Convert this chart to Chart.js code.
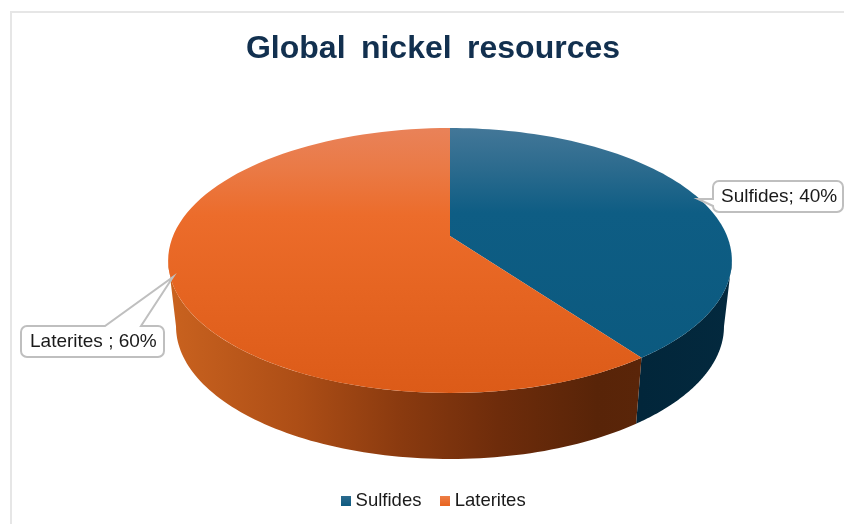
<!DOCTYPE html>
<html>
<head>
<meta charset="utf-8">
<title>Global nickel resources</title>
<script src="https://cdn.jsdelivr.net/npm/chart.js@4/dist/chart.umd.min.js"></script>
<style>
    html, body { margin: 0; padding: 0; background: #fff; overflow: hidden; }
    #wrap { width: 844px; height: 524px; position: relative; }
</style>
</head>
<body>
<div id="wrap"><canvas id="nickel-chart" width="844" height="524"></canvas></div>
<script>
const chartTitle = 'Global nickel resources';
const categories = ['Sulfides', 'Laterites'];
const shares = [40, 60];
const labelSeparators = ['; ', ' ; '];
const sliceColors = ['#125F85', '#EC6A2A'];

const FONT = '"Liberation Sans", Arial, sans-serif';

// Tilted disc: maps a unit circle onto the page with a little perspective
const disc = { cx: 450, cy: 236, rx: 277, ySkew: 84.3, persp: -0.185, depth: 66, bottomScale: 0.972 };

function rimPoint(angle, bottom) {
    const c = Math.cos(angle), s = Math.sin(angle);
    const w = 1 + disc.persp * s;
    let x = disc.rx * c / w;
    let y = disc.cy + disc.ySkew * s / w + (disc.cy * (1 / w - 1));
    if (bottom) {
        x *= disc.bottomScale;
        y += disc.depth;
    }
    return { x: disc.cx + x, y: y };
}

function traceRim(ctx, from, to, bottom, first) {
    const steps = 90;
    for (let i = 0; i <= steps; i++) {
        const p = rimPoint(from + (to - from) * i / steps, bottom);
        if (i === 0 && first) ctx.moveTo(p.x, p.y);
        else ctx.lineTo(p.x, p.y);
    }
}

function stops(grad, list) {
    list.forEach(function(item) { grad.addColorStop(item[0], item[1]); });
    return grad;
}

// Side wall first, top face over it
const discPlugin = {
    id: 'tiltedDisc',
    beforeDatasetsDraw(chart) {
        const ctx = chart.ctx;
        const arcs = chart.getDatasetMeta(0).data;

        const wallFills = [
            stops(ctx.createLinearGradient(640, 0, 732, 0), [[0, '#02263A'], [1, '#03293E']]),
            stops(ctx.createLinearGradient(170, 0, 640, 0), [[0, '#C9621F'], [0.27, '#AD4E16'], [0.49, '#8A3A0F'], [0.7, '#6E2C0B'], [0.91, '#582408'], [1, '#5A2509']])
        ];
        const topFills = [
            stops(ctx.createLinearGradient(0, 128, 0, 393), [[0, '#437798'], [0.15, '#2C6B8E'], [0.32, '#0E5D84'], [1, '#0B597E']]),
            stops(ctx.createLinearGradient(0, 128, 0, 393), [[0, '#E98259'], [0.15, '#EA7A46'], [0.33, '#EC6C2B'], [0.6, '#E66522'], [1, '#DC5B18']])
        ];

        // the wall runs between the two points where the rim turns back
        const nearFrom = Math.asin(-disc.persp), nearTo = Math.PI - nearFrom;
        arcs.forEach(function(arc, i) {
            const p = arc.getProps(['startAngle', 'endAngle'], true);
            let a = p.startAngle, b = p.endAngle;
            if (a < nearFrom && b > nearFrom) a = nearFrom;
            if (b > nearTo) b = nearTo;
            ctx.beginPath();
            traceRim(ctx, a, b, false, true);
            traceRim(ctx, b, a, true, false);
            ctx.closePath();
            ctx.fillStyle = wallFills[i];
            ctx.fill();
        });

        arcs.forEach(function(arc, i) {
            const p = arc.getProps(['startAngle', 'endAngle'], true);
            ctx.beginPath();
            ctx.moveTo(disc.cx, disc.cy);
            traceRim(ctx, p.startAngle, p.endAngle, false, false);
            ctx.closePath();
            ctx.fillStyle = topFills[i];
            ctx.fill();
        });
        return false;
    }
};

// Thin frame on the top and left of the panel
const framePlugin = {
    id: 'panelFrame',
    beforeDraw(chart) {
        const ctx = chart.ctx;
        ctx.save();
        ctx.strokeStyle = '#E6E6E6';
        ctx.lineWidth = 2;
        ctx.beginPath();
        ctx.moveTo(11, 524);
        ctx.lineTo(11, 12);
        ctx.lineTo(844, 12);
        ctx.stroke();
        ctx.restore();
        // wide gaps between the title words
        ctx.wordSpacing = '6.5px';
    },
    afterDatasetsDraw(chart) {
        chart.ctx.wordSpacing = '0px';
    }
};

// Nudge the legend row sideways, its width includes trailing padding
const legendNudge = {
    id: 'legendNudge',
    afterLayout(chart) {
        chart.legend.left += 2.5;
        chart.legend.right += 2.5;
    }
};

function calloutPath(ctx, box, wedge) {
    const r = 6, x0 = box.x, y0 = box.y, x1 = box.x + box.w, y1 = box.y + box.h;
    ctx.beginPath();
    ctx.moveTo(x0 + r, y0);
    if (wedge.side === 'top') {
        ctx.lineTo(wedge.a, y0);
        ctx.lineTo(wedge.tipX, wedge.tipY);
        ctx.lineTo(wedge.b, y0);
    }
    ctx.lineTo(x1 - r, y0);
    ctx.arcTo(x1, y0, x1, y0 + r, r);
    ctx.lineTo(x1, y1 - r);
    ctx.arcTo(x1, y1, x1 - r, y1, r);
    ctx.lineTo(x0 + r, y1);
    ctx.arcTo(x0, y1, x0, y1 - r, r);
    if (wedge.side === 'left') {
        ctx.lineTo(wedge.tipX, wedge.tipY);
        ctx.lineTo(x0, wedge.a);
    }
    ctx.lineTo(x0, y0 + r);
    ctx.arcTo(x0, y0, x0 + r, y0, r);
    ctx.closePath();
}

// Label boxes with their pointers
const calloutPlugin = {
    id: 'sliceCallouts',
    afterDraw(chart) {
        const ctx = chart.ctx;
        const callouts = [
            { box: { x: 713, y: 181, w: 130, h: 31 }, textX: 721, textY: 197,
              wedge: { side: 'left', a: 199, tipX: 698, tipY: 199 } },
            { box: { x: 21, y: 326, w: 143, h: 31 }, textX: 30, textY: 342,
              wedge: { side: 'top', a: 105, b: 141, tipX: 173, tipY: 277 } }
        ];
        ctx.save();
        ctx.wordSpacing = '0px';
        callouts.forEach(function(c, i) {
            calloutPath(ctx, c.box, c.wedge);
            ctx.fillStyle = '#FFFFFF';
            ctx.fill();
            ctx.strokeStyle = '#BFBFBF';
            ctx.lineWidth = 2;
            ctx.stroke();
            ctx.fillStyle = '#1A1A1A';
            ctx.font = '19px ' + FONT;
            ctx.textAlign = 'left';
            ctx.textBaseline = 'middle';
            ctx.fillText(categories[i] + labelSeparators[i] + shares[i] + '%', c.textX, c.textY);
        });
        ctx.restore();
    }
};

// Small shaded legend swatch
function swatch(top, bottom) {
    const c = document.createElement('canvas');
    c.width = 10;
    c.height = 10;
    const g = c.getContext('2d');
    const grad = g.createLinearGradient(0, 0, 0, 10);
    grad.addColorStop(0, top);
    grad.addColorStop(1, bottom);
    g.fillStyle = grad;
    g.fillRect(0, 0, 10, 10);
    return c;
}
const swatches = [swatch('#2D6C8F', '#0E5A80'), swatch('#EE7F48', '#E8641F')];

new Chart(document.getElementById('nickel-chart'), {
    type: 'pie',
    data: {
        labels: categories,
        datasets: [{ data: shares, backgroundColor: sliceColors, borderWidth: 0 }]
    },
    options: {
        responsive: false,
        animation: false,
        layout: { padding: { left: 22, right: 0, top: 30, bottom: 4 } },
        plugins: {
            tooltip: { enabled: false },
            title: {
                display: true,
                text: chartTitle,
                color: '#12304F',
                font: { family: FONT, size: 32, weight: 'bold' },
                padding: { top: 0, bottom: 10 }
            },
            legend: {
                position: 'bottom',
                labels: {
                    usePointStyle: true,
                    pointStyleWidth: 1,
                    padding: 23,
                    color: '#1A1A1A',
                    font: { family: FONT, size: 18.5 },
                    generateLabels(chart) {
                        return Chart.overrides.doughnut.plugins.legend.labels.generateLabels(chart)
                            .map(function(item, i) {
                                item.pointStyle = swatches[i];
                                return item;
                            });
                    }
                }
            }
        }
    },
    plugins: [framePlugin, discPlugin, calloutPlugin, legendNudge]
});
</script>
</body>
</html>
